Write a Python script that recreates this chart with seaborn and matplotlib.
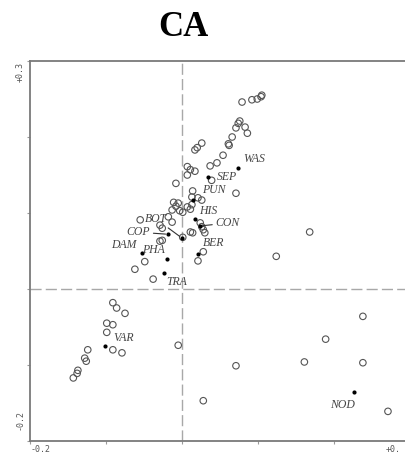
import numpy as np
import pandas as pd
import matplotlib
matplotlib.use("Agg")
import matplotlib.pyplot as plt
import seaborn as sns

# open circles (sample scores)
samp_x = [0.079, 0.092, 0.099, 0.104, 0.105, 0.074, 0.076, 0.071, 0.083, 0.086,
          0.066, 0.062, 0.061, 0.054, 0.046, 0.037, 0.039, 0.071, 0.026, 0.020,
          0.017, 0.007, 0.011, 0.017, 0.007, -0.008, 0.014, 0.013, 0.021, 0.026,
          -0.011, -0.008, -0.003, 0.001, 0.011, 0.013, -0.013, 0.007, -0.005, 0.024,
          0.026, 0.028, 0.030, 0.011, 0.014, -0.055, -0.018, -0.013, -0.029, -0.026,
          0.001, -0.026, -0.029, 0.028, 0.021, -0.049, -0.062, -0.038, 0.168, 0.124,
          -0.091, -0.086, -0.075, -0.099, -0.091, -0.099, -0.091, -0.079, -0.124, -0.128,
          -0.126, -0.137, -0.138, -0.143, -0.005, 0.238, 0.189, 0.071, 0.161, 0.238,
          0.271, 0.028]
samp_y = [0.246, 0.249, 0.250, 0.253, 0.255, 0.218, 0.221, 0.212, 0.213, 0.205,
          0.200, 0.189, 0.191, 0.176, 0.166, 0.162, 0.143, 0.126, 0.192, 0.186,
          0.183, 0.161, 0.157, 0.155, 0.150, 0.139, 0.129, 0.121, 0.120, 0.117,
          0.114, 0.109, 0.103, 0.101, 0.105, 0.111, 0.104, 0.108, 0.113, 0.087,
          0.082, 0.078, 0.074, 0.075, 0.074, 0.091, 0.095, 0.088, 0.084, 0.080,
          0.068, 0.064, 0.063, 0.049, 0.037, 0.036, 0.026, 0.013, 0.075, 0.043,
          -0.018, -0.025, -0.032, -0.045, -0.047, -0.057, -0.080, -0.084, -0.080, -0.091,
          -0.095, -0.107, -0.111, -0.117, -0.074, -0.036, -0.066, -0.101, -0.096, -0.097,
          -0.161, -0.147]

# filled dots (species scores)
spec_names = ["WAS", "SEP", "PUN", "HIS", "CON", "BOT", "COP",
              "DAM", "PHA", "BER", "TRA", "VAR", "NOD"]
spec_x = [0.074, 0.034, 0.014, 0.017, 0.024, 0.000, -0.018,
          -0.053, -0.020, 0.021, -0.024, -0.101, 0.226]
spec_y = [0.159, 0.147, 0.117, 0.092, 0.083, 0.067, 0.072,
          0.047, 0.039, 0.046, 0.021, -0.075, -0.136]

# label offsets (points) and whether a leader line is drawn
lab_off = {"WAS": (3.6, 6.5), "SEP": (6.5, 0), "PUN": (6.5, 7.2), "HIS": (3, 6),
           "CON": (11, 2), "BOT": (-27, 14), "COP": (-30, 1.5), "DAM": (-22, 6),
           "PHA": (-18, 7), "BER": (3.6, 8), "TRA": (1.5, -6.5), "VAR": (6, 6),
           "NOD": (-17, -9)}
leader = ["CON", "BOT", "COP"]

samples = pd.DataFrame({"x": samp_x, "y": samp_y})
species = pd.DataFrame({"name": spec_names, "x": spec_x, "y": spec_y})

sns.set_style("white")

W, H = 405, 454
fig = plt.figure(figsize=(W / 100, H / 100), dpi=100)
# axes run a little past the right edge, as in the cropped original
ax = fig.add_axes([30 / W, 13 / H, 380 / W, 380 / H])
ax.set_xlim(-0.2, 0.3)
ax.set_ylim(-0.2, 0.3)

ax.axvline(0, color="#a8a8a8", lw=1, ls=(0, (8, 3)), zorder=1)
ax.axhline(0, color="#a8a8a8", lw=1, ls=(0, (8, 3)), zorder=1)

sns.scatterplot(data=samples, x="x", y="y", ax=ax, marker="o", s=22,
                facecolor="none", edgecolor="#555555", linewidth=0.8, zorder=3)
sns.scatterplot(data=species, x="x", y="y", ax=ax, marker="o", s=9,
                color="black", edgecolor="black", linewidth=0, zorder=4)

for _, r in species.iterrows():
    dx, dy = lab_off[r["name"]]
    arrow = None
    if r["name"] in leader:
        arrow = dict(arrowstyle="-", color="#333333", lw=0.8, shrinkA=0, shrinkB=2)
    ax.annotate(r["name"], (r["x"], r["y"]), xytext=(dx, dy),
                textcoords="offset points", ha="left", va="center",
                fontsize=8.5, family="Liberation Serif", style="italic",
                color="#444444", arrowprops=arrow, zorder=5)

for s in ax.spines.values():
    s.set_color("#7a7a7a")
    s.set_linewidth(1.3)

ax.set_xticks([-0.2, -0.1, 0, 0.1, 0.2, 0.3])
ax.set_yticks([-0.2, -0.1, 0, 0.1, 0.2, 0.3])
ax.tick_params(direction="out", length=2.5, width=0.8, color="#9a9a9a",
               labelbottom=False, labelleft=False, bottom=True, left=True)
ax.set_xlabel("")
ax.set_ylabel("")

tk = dict(fontsize=6, family="DejaVu Sans Mono", color="#555555")
fig.text(31 / W, 1 - 449 / H, "-0.2", ha="left", va="center", **tk)
fig.text(386 / W, 1 - 449 / H, "+0.", ha="left", va="center", **tk)
fig.text(20 / W, 1 - 62 / H, "+0.3", ha="center", va="top", rotation=90, **tk)
fig.text(20 / W, 1 - 430 / H, "-0.2", ha="center", va="bottom", rotation=90, **tk)

fig.text(183 / W, 1 - 27 / H, "CA", ha="center", va="center", fontsize=25,
         family="Liberation Serif", weight="bold", color="black")

fig.savefig("out.png", dpi=100)
